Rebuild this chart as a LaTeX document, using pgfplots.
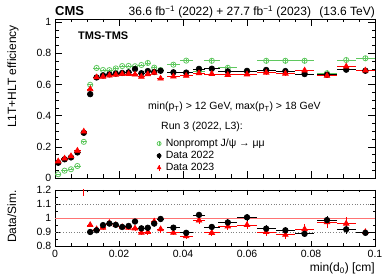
\documentclass[border=0pt]{standalone}
\usepackage{fontspec}
\setmainfont{Liberation Sans}
\usepackage{pgfplots}
\pgfplotsset{compat=1.18}
\usepackage{pgfplotstable}
\definecolor{simgreen}{RGB}{95,200,95}

\pgfplotstableread{
x ex y ey
0.001 0.001 0.098 0.008
0.003 0.001 0.120 0.008
0.005 0.001 0.132 0.008
0.007 0.001 0.164 0.009
0.009 0.001 0.290 0.010
0.011 0.001 0.538 0.010
0.013 0.001 0.645 0.009
0.015 0.001 0.658 0.009
0.017 0.001 0.665 0.009
0.019 0.001 0.670 0.009
0.021 0.001 0.674 0.009
0.023 0.001 0.678 0.009
0.025 0.001 0.699 0.010
0.027 0.001 0.672 0.010
0.029 0.001 0.686 0.010
0.031 0.001 0.680 0.010
0.033 0.001 0.688 0.011
0.037 0.002 0.678 0.009
0.041 0.002 0.676 0.010
0.045 0.002 0.700 0.010
0.049 0.0025 0.701 0.010
0.054 0.003 0.684 0.010
0.060 0.003 0.687 0.011
0.066 0.003 0.693 0.011
0.072 0.003 0.686 0.012
0.078 0.003 0.667 0.012
0.085 0.003 0.662 0.013
0.091 0.003 0.695 0.013
0.097 0.003 0.688 0.013
}\effA

\pgfplotstableread{
x ex y ey
0.001 0.001 0.107 0.008
0.003 0.001 0.125 0.008
0.005 0.001 0.140 0.008
0.007 0.001 0.175 0.009
0.009 0.001 0.298 0.010
0.011 0.001 0.570 0.010
0.013 0.001 0.646 0.009
0.015 0.001 0.650 0.009
0.017 0.001 0.658 0.009
0.019 0.001 0.663 0.009
0.021 0.001 0.667 0.009
0.023 0.001 0.668 0.009
0.025 0.001 0.664 0.010
0.027 0.001 0.650 0.010
0.029 0.001 0.666 0.010
0.031 0.001 0.675 0.010
0.033 0.001 0.638 0.011
0.037 0.002 0.651 0.010
0.041 0.002 0.656 0.010
0.045 0.002 0.672 0.011
0.049 0.0025 0.668 0.011
0.054 0.003 0.662 0.012
0.060 0.003 0.665 0.013
0.066 0.003 0.676 0.013
0.072 0.003 0.670 0.014
0.078 0.003 0.690 0.016
0.085 0.003 0.656 0.016
0.091 0.003 0.715 0.018
0.097 0.003 0.690 0.012
}\effB

\pgfplotstableread{
x ex y ey
0.001 0.001 0.024 0.004
0.003 0.001 0.047 0.005
0.005 0.001 0.056 0.005
0.007 0.001 0.077 0.006
0.009 0.001 0.232 0.008
0.011 0.001 0.598 0.008
0.013 0.001 0.706 0.008
0.015 0.001 0.693 0.008
0.017 0.001 0.692 0.008
0.019 0.001 0.703 0.008
0.021 0.001 0.718 0.008
0.023 0.001 0.719 0.008
0.025 0.001 0.717 0.009
0.027 0.001 0.725 0.009
0.029 0.001 0.738 0.010
0.031 0.001 0.708 0.010
0.033 0.001 0.693 0.010
0.037 0.002 0.727 0.010
0.041 0.002 0.753 0.012
0.045 0.002 0.685 0.012
0.049 0.0025 0.752 0.018
0.054 0.003 0.707 0.015
0.060 0.003 0.684 0.015
0.066 0.003 0.752 0.018
0.072 0.003 0.752 0.018
0.078 0.003 0.752 0.018
0.085 0.003 0.672 0.018
0.091 0.003 0.757 0.018
0.097 0.003 0.768 0.015
}\effC

\pgfplotstableread{
x ex y ey
0.011 0.001 0.900 0.015
0.013 0.001 0.912 0.015
0.015 0.001 0.949 0.015
0.017 0.001 0.960 0.016
0.019 0.001 0.951 0.016
0.021 0.001 0.936 0.016
0.023 0.001 0.943 0.016
0.025 0.001 0.975 0.018
0.027 0.001 0.926 0.018
0.029 0.001 0.930 0.018
0.031 0.001 0.960 0.020
0.033 0.001 0.993 0.022
0.037 0.002 0.931 0.018
0.041 0.002 0.894 0.018
0.045 0.002 1.022 0.022
0.049 0.0025 0.936 0.020
0.054 0.003 0.968 0.022
0.060 0.003 1.005 0.024
0.066 0.003 0.924 0.024
0.072 0.003 0.912 0.025
0.078 0.003 0.887 0.026
0.085 0.003 0.985 0.030
0.091 0.003 0.919 0.030
0.097 0.003 0.894 0.020
}\ratA

\pgfplotstableread{
x ex y ey
0.009 0.001 1.280 0.120
0.011 0.001 0.950 0.016
0.013 0.001 0.920 0.016
0.015 0.001 0.930 0.016
0.017 0.001 0.965 0.018
0.019 0.001 0.950 0.017
0.021 0.001 0.935 0.017
0.023 0.001 0.930 0.017
0.025 0.001 0.926 0.020
0.027 0.001 0.895 0.020
0.029 0.001 0.900 0.020
0.031 0.001 0.975 0.022
0.033 0.001 0.920 0.024
0.037 0.002 0.895 0.020
0.041 0.002 0.870 0.020
0.045 0.002 0.982 0.025
0.049 0.0025 0.894 0.022
0.054 0.003 0.940 0.025
0.060 0.003 0.950 0.028
0.066 0.003 0.900 0.028
0.072 0.003 0.880 0.030
0.078 0.003 0.920 0.040
0.085 0.003 0.970 0.040
0.091 0.003 0.960 0.050
0.097 0.003 0.900 0.020
}\ratB

\pgfplotsset{
  every axis/.append style={
    line width=0.7pt,
    tick style={line width=0.6pt, black},
    tick label style={font=\fontsize{10.5}{12}\selectfont},
    /pgf/number format/assume math mode=true,
    scaled x ticks=false,
    xmin=0, xmax=0.1,
    xtick={0,0.02,0.04,0.06,0.08,0.1},
    minor x tick num=3,
    xticklabel style={/pgf/number format/fixed,/pgf/number format/precision=2},
    yticklabel style={/pgf/number format/fixed,/pgf/number format/precision=2},
    width=320pt, scale only axis,
  },
  errstyle/.style={error bars/.cd, x dir=both, x explicit, y dir=both, y explicit, error mark=none, error bar style={line width=0.7pt, solid}},
}

\begin{document}
\begin{tikzpicture}
\path[use as bounding box] (0,0) rectangle (389pt,279pt);

\begin{axis}[
  at={(55pt,101pt)}, anchor=south west,
  height=159pt,
  ymin=0, ymax=1.02,
  ytick={0,0.2,0.4,0.6,0.8,1},
  minor y tick num=3,
  major tick length=7pt, minor tick length=3.5pt,
  xticklabels={},
  legend style={draw=none, fill=none, at={(rel axis cs:0.318,0.255)}, anchor=north west,
    font=\fontsize{10.5}{12}\selectfont, row sep=0.8pt, inner sep=0pt,
    nodes={inner sep=1.2pt},
    /tikz/every odd column/.append style={column sep=3.5pt}},
  legend cell align=left,
  legend image code/.code={
    \draw[#1, mark=none, solid] (0.15cm,-0.1cm) -- (0.15cm,0.1cm);
    \draw[#1, only marks, mark size=2pt] plot coordinates {(0.15cm,0cm)};
  },
]
\addplot[only marks, simgreen, mark=o, mark size=2.6pt, mark options={line width=0.8pt}, errstyle]
  table[x=x, y=y, x error=ex, y error=ey] {\effC};
\addlegendentry{Nonprompt J/ψ → μμ}
\addplot[only marks, black, mark=*, mark size=2.8pt, errstyle]
  table[x=x, y=y, x error=ex, y error=ey] {\effA};
\addlegendentry{Data 2022}
\addplot[only marks, red, mark=triangle*, mark size=3.2pt, errstyle]
  table[x=x, y=y, x error=ex, y error=ey] {\effB};
\addlegendentry{Data 2023}
\end{axis}

\begin{axis}[
  at={(55pt,33pt)}, anchor=south west,
  height=56pt,
  ymin=0.8, ymax=1.2,
  ytick={0.8,0.9,1,1.1,1.2},
  yticklabels={0.8,0.9,1,1.1,1.2},
  minor y tick num=1,
  major tick length=5pt, minor tick length=2.5pt,
]
\addplot[gray, dotted, line width=0.7pt] coordinates {(0,1.1) (0.1,1.1)};
\addplot[gray, dotted, line width=0.7pt] coordinates {(0,0.9) (0.1,0.9)};
\addplot[red!55, line width=0.4pt] coordinates {(0,1) (0.1,1)};
\addplot[only marks, red, mark=triangle*, mark size=3.2pt, errstyle]
  table[x=x, y=y, x error=ex, y error=ey] {\ratB};
\addplot[only marks, black, mark=*, mark size=2.8pt, errstyle]
  table[x=x, y=y, x error=ex, y error=ey] {\ratA};
\end{axis}

\node[anchor=base west, font=\fontsize{13}{15}\selectfont\bfseries, inner sep=0pt] at (55pt,263pt) {CMS};
\node[anchor=base east, font=\fontsize{12}{14}\selectfont, inner sep=0pt] at (375pt,263pt) {36.6 fb\textsuperscript{−1} (2022) + 27.7 fb\textsuperscript{−1} (2023)\hspace{0.7em}(13.6 TeV)};
\node[anchor=base west, font=\fontsize{11}{13}\selectfont\bfseries, inner sep=0pt] at (78pt,239pt) {TMS-TMS};
\node[anchor=base west, font=\fontsize{10.5}{12}\selectfont, inner sep=0pt] at (148pt,169pt) {min(p\textsubscript{T}) > 12 GeV, max(p\textsubscript{T}) > 18 GeV};
\node[anchor=base west, font=\fontsize{10.5}{12}\selectfont, inner sep=0pt] at (161pt,149pt) {Run 3 (2022, L3):};
\node[rotate=90, anchor=base east, font=\fontsize{12}{14}\selectfont, inner sep=0pt] at (16pt,254pt) {L1T+HLT efficiency};
\node[rotate=90, anchor=base east, font=\fontsize{12}{14}\selectfont, inner sep=0pt] at (16pt,89pt) {Data/Sim.};
\node[anchor=base east, font=\fontsize{12}{14}\selectfont, inner sep=0pt] at (375pt,7pt) {min(d\textsubscript{0}) [cm]};
\end{tikzpicture}
\end{document}
